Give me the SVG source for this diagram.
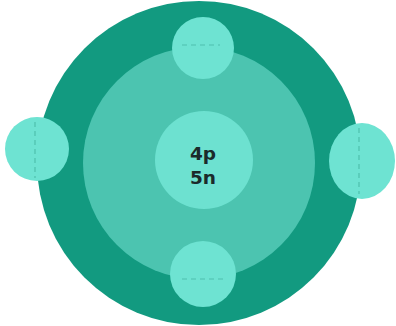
<svg xmlns="http://www.w3.org/2000/svg" width="396" height="326" viewBox="0 0 396 326">
<style>
.e{fill:#6ee3d2}
.d{stroke:#4fc0ad;stroke-width:1.2;stroke-dasharray:5 4;fill:none}
.t{font-family:"DejaVu Sans",sans-serif;font-size:18.5px;font-weight:bold;fill:#1b2b2b;text-anchor:middle}
</style>
<rect width="396" height="326" fill="#ffffff"/>
<g id="outer-shell"><circle cx="199" cy="163" r="162" fill="#129a80"/></g>
<g id="inner-shell"><circle cx="199" cy="163" r="116" fill="#4cc4b0"/></g>
<g id="nucleus"><circle cx="204" cy="160" r="49" fill="#6de1d0"/>
<text class="t" x="203" y="160">4p</text><text class="t" x="203" y="184">5n</text></g>
<g id="electron-top"><circle class="e" cx="203" cy="48" r="31"/></g>
<g id="electron-left"><circle class="e" cx="37" cy="149" r="32"/></g>
<g id="electron-right"><ellipse class="e" cx="362" cy="161" rx="33" ry="38"/></g>
<g id="electron-bottom"><circle class="e" cx="203" cy="274" r="33"/></g>
<g id="connectors">
<line class="d" x1="182" y1="45" x2="220" y2="45"/>
<line class="d" x1="35" y1="122" x2="35" y2="178"/>
<line class="d" x1="359" y1="128" x2="359" y2="194"/>
<line class="d" x1="182" y1="279" x2="226" y2="279"/>
</g>
</svg>
